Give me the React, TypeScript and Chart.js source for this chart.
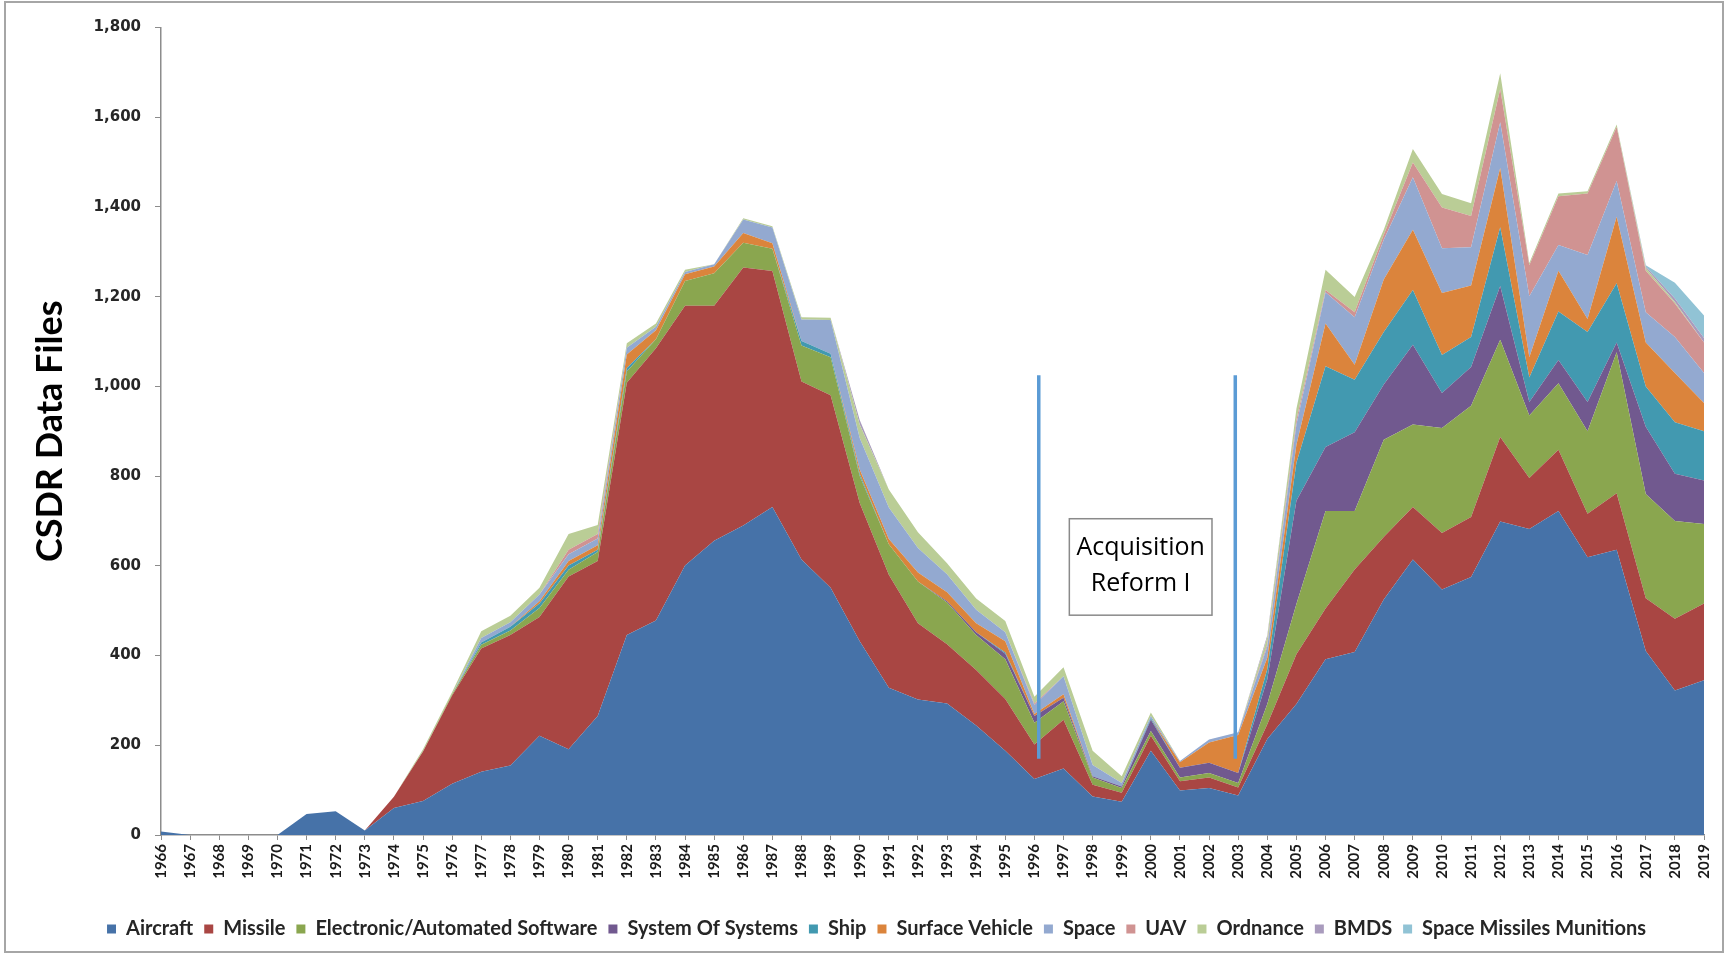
import React, { useEffect, useRef } from 'react';
import { Chart, registerables } from 'chart.js';

Chart.register(...registerables);

const FIRST_YEAR = 1966;
const years: string[] = Array.from({ length: 54 }, (_, i) => String(FIRST_YEAR + i));

// values per year, 1966 .. 2019
const aircraft = [8, 0, 0, 0, 0, 47, 53, 10, 60, 76, 114, 141, 155, 221, 191, 265, 446, 478, 601, 656, 690, 731, 614, 551, 432, 328, 302, 293, 244, 188, 125, 148, 86, 74, 188, 99, 105, 88, 214, 292, 392, 408, 525, 614, 547, 575, 699, 682, 722, 619, 636, 410, 322, 345];
const missile = [0, 0, 0, 0, 0, 0, 0, 0, 25, 110, 197, 275, 291, 265, 385, 346, 562, 607, 579, 524, 575, 526, 397, 429, 308, 252, 170, 132, 124, 115, 77, 109, 26, 20, 33, 21, 23, 18, 33, 111, 113, 184, 139, 117, 126, 134, 188, 114, 137, 97, 126, 118, 160, 171];
const electronic = [0, 0, 0, 0, 0, 0, 0, 0, 0, 0, 3, 8, 10, 20, 15, 20, 25, 20, 55, 72, 55, 50, 80, 85, 60, 68, 93, 93, 78, 89, 48, 41, 16, 11, 11, 8, 10, 10, 45, 112, 217, 130, 217, 184, 234, 248, 217, 139, 148, 184, 314, 232, 218, 177];
const systemOfSystems = [0, 0, 0, 0, 0, 0, 0, 0, 0, 0, 0, 0, 0, 0, 0, 0, 0, 0, 0, 0, 0, 0, 0, 0, 0, 0, 0, 3, 6, 12, 15, 8, 3, 3, 25, 22, 23, 22, 55, 230, 143, 176, 123, 178, 78, 86, 120, 30, 52, 65, 22, 150, 105, 97];
const ship = [0, 0, 0, 0, 0, 0, 0, 0, 0, 0, 0, 5, 8, 10, 10, 5, 8, 0, 0, 0, 0, 0, 10, 8, 5, 0, 0, 0, 0, 3, 0, 0, 0, 0, 3, 0, 0, 0, 23, 85, 180, 117, 117, 122, 85, 67, 131, 55, 108, 156, 132, 90, 115, 110];
const surfaceVehicle = [0, 0, 0, 0, 0, 0, 0, 0, 0, 0, 0, 0, 0, 5, 10, 10, 30, 20, 15, 15, 22, 12, 0, 0, 10, 12, 20, 20, 20, 25, 5, 8, 0, 0, 0, 12, 45, 85, 25, 40, 95, 33, 117, 134, 138, 115, 132, 45, 91, 29, 148, 98, 110, 63];
const space = [0, 0, 0, 0, 0, 0, 0, 0, 0, 0, 0, 10, 10, 15, 15, 15, 15, 8, 5, 5, 30, 35, 48, 75, 70, 70, 55, 40, 30, 20, 20, 40, 25, 8, 5, 3, 7, 6, 25, 45, 70, 106, 89, 117, 100, 85, 102, 136, 57, 143, 80, 67, 80, 67];
const uav = [0, 0, 0, 0, 0, 0, 0, 0, 0, 0, 0, 0, 0, 0, 10, 10, 0, 0, 0, 0, 0, 0, 0, 0, 0, 0, 0, 0, 0, 0, 3, 0, 0, 0, 0, 0, 0, 0, 5, 10, 5, 11, 11, 33, 91, 70, 74, 69, 109, 137, 120, 93, 75, 68];
const ordnance = [0, 0, 0, 0, 0, 0, 0, 0, 0, 5, 5, 15, 15, 15, 35, 20, 10, 7, 5, 0, 3, 3, 5, 5, 30, 40, 35, 25, 25, 25, 15, 20, 32, 15, 8, 0, 0, 0, 15, 25, 45, 34, 11, 30, 30, 28, 35, 5, 6, 5, 6, 6, 3, 0];
const bmds = [0, 0, 0, 0, 0, 0, 0, 0, 0, 0, 0, 0, 0, 0, 0, 0, 0, 0, 0, 0, 0, 0, 0, 0, 10, 0, 0, 0, 0, 0, 0, 0, 0, 0, 0, 0, 0, 0, 5, 0, 0, 0, 0, 0, 0, 0, 0, 0, 0, 0, 0, 3, 8, 10];
const spaceMissilesMunitions = [0, 0, 0, 0, 0, 0, 0, 0, 0, 0, 0, 0, 0, 0, 0, 0, 0, 0, 0, 0, 0, 0, 0, 0, 0, 0, 0, 0, 0, 0, 0, 0, 0, 0, 0, 0, 0, 0, 0, 0, 0, 0, 0, 0, 0, 0, 0, 0, 0, 0, 0, 3, 35, 50];

const seriesNames = ['Aircraft', 'Missile', 'Electronic/Automated Software', 'System Of Systems', 'Ship', 'Surface Vehicle', 'Space', 'UAV', 'Ordnance', 'BMDS', 'Space Missiles Munitions'];
const seriesValues = [aircraft, missile, electronic, systemOfSystems, ship, surfaceVehicle, space, uav, ordnance, bmds, spaceMissilesMunitions];
const seriesColors = ['#4672A8', '#A94643', '#8AA64F', '#71598F', '#4299B0', '#DB843C', '#93A9D0', '#D09392', '#BACD96', '#A99BBD', '#91C3D5'];

const yMax = 1800;
const yStep = 200;
const yTitle = 'CSDR Data Files';

// annotation: Acquisition Reform I period
const reformLineYears = [1996.15, 2002.9];
const reformLineSpan = [170, 1025];
const reformBoxYears = [1997.2, 2002.1];
const reformBoxSpan = [490, 705];
const reformLabel = ['Acquisition', 'Reform I'];

const sansBold = "Lato, 'Open Sans', sans-serif";

const reformPlugin = {
  id: 'reform',
  afterDatasetsDraw(chart: any) {
    const { ctx } = chart;
    const x = chart.scales.x;
    const y = chart.scales.y;
    ctx.save();
    ctx.strokeStyle = '#5B9BD5';
    ctx.lineWidth = 3.5;
    reformLineYears.forEach((yr) => {
      const px = x.getPixelForValue(yr - FIRST_YEAR);
      ctx.beginPath();
      ctx.moveTo(px, y.getPixelForValue(reformLineSpan[0]));
      ctx.lineTo(px, y.getPixelForValue(reformLineSpan[1]));
      ctx.stroke();
    });
    const x0 = x.getPixelForValue(reformBoxYears[0] - FIRST_YEAR);
    const x1 = x.getPixelForValue(reformBoxYears[1] - FIRST_YEAR);
    const y0 = y.getPixelForValue(reformBoxSpan[1]);
    const y1 = y.getPixelForValue(reformBoxSpan[0]);
    ctx.fillStyle = '#ffffff';
    ctx.fillRect(x0, y0, x1 - x0, y1 - y0);
    ctx.strokeStyle = '#8a8a8a';
    ctx.lineWidth = 1.5;
    ctx.strokeRect(x0, y0, x1 - x0, y1 - y0);
    ctx.fillStyle = '#000000';
    ctx.font = "25px 'Open Sans', sans-serif";
    ctx.textAlign = 'center';
    ctx.textBaseline = 'alphabetic';
    const cx = (x0 + x1) / 2;
    reformLabel.forEach((t, i) => {
      ctx.fillText(t, cx, y0 + 36 + i * 36);
    });
    ctx.restore();
  },
};

export default function App() {
  const ref = useRef<HTMLCanvasElement>(null);

  useEffect(() => {
    document.body.style.overflow = 'hidden';
    const canvas = ref.current;
    if (!canvas) return;
    const datasets = seriesNames.map((name, i) => ({
      label: name,
      data: seriesValues[i],
      backgroundColor: seriesColors[i],
      borderColor: 'rgba(0,0,0,0)',
      borderWidth: 0,
      pointRadius: 0,
      pointHoverRadius: 0,
      tension: 0,
      fill: i === 0 ? 'origin' : '-1',
    }));
    const chart = new Chart(canvas, {
      type: 'line',
      data: { labels: years, datasets },
      plugins: [reformPlugin],
      options: {
        responsive: false,
        animation: false,
        locale: 'en-US',
        events: [],
        layout: { padding: { left: 44, right: 17, top: 27.5, bottom: 31 } },
        plugins: {
          tooltip: { enabled: false },
          title: { display: false },
          legend: {
            position: 'bottom',
            labels: {
              boxWidth: 9,
              boxHeight: 9,
              padding: 11,
              color: '#262626',
              font: { family: sansBold, size: 20, weight: 'bold' },
            },
          },
        },
        scales: {
          x: {
            type: 'category',
            offset: false,
            afterFit: (s: any) => { s.height = 73; },
            grid: { display: true, drawOnChartArea: false, drawTicks: true, tickLength: 5, color: '#8c8c8c' },
            border: { display: true, color: '#8c8c8c', width: 1.5 },
            ticks: {
              autoSkip: false,
              maxRotation: 90,
              minRotation: 90,
              padding: 4,
              color: '#1a1a1a',
              font: { family: sansBold, size: 15, weight: 'bold' },
            },
          },
          y: {
            stacked: true,
            min: 0,
            max: yMax,
            afterFit: (s: any) => { s.width = 117; },
            grid: { display: true, drawOnChartArea: false, drawTicks: true, tickLength: 6, color: '#8c8c8c' },
            border: { display: true, color: '#8c8c8c', width: 1.5 },
            ticks: {
              stepSize: yStep,
              padding: 14,
              color: '#262626',
              font: { family: "'DejaVu Sans', Verdana, sans-serif", size: 15, weight: 'bold' },
            },
            title: {
              display: true,
              text: yTitle,
              color: '#000000',
              padding: { top: -12, bottom: 0 },
              font: { family: sansBold, size: 36, weight: 'bold', lineHeight: 1 },
            },
          },
        },
      },
    });
    return () => chart.destroy();
  }, []);

  return (
    <div style={{ position: 'absolute', left: 0, top: 0, width: 1726, height: 955, overflow: 'hidden', background: '#ffffff' }}>
      <canvas ref={ref} width={1726} height={980} style={{ position: 'absolute', left: 0, top: 0, width: 1726, height: 980 }} />
      <div style={{ position: 'absolute', left: 4, top: 1, width: 1716, height: 948, border: '2px solid #a6a6a6', pointerEvents: 'none' }} />
    </div>
  );
}
